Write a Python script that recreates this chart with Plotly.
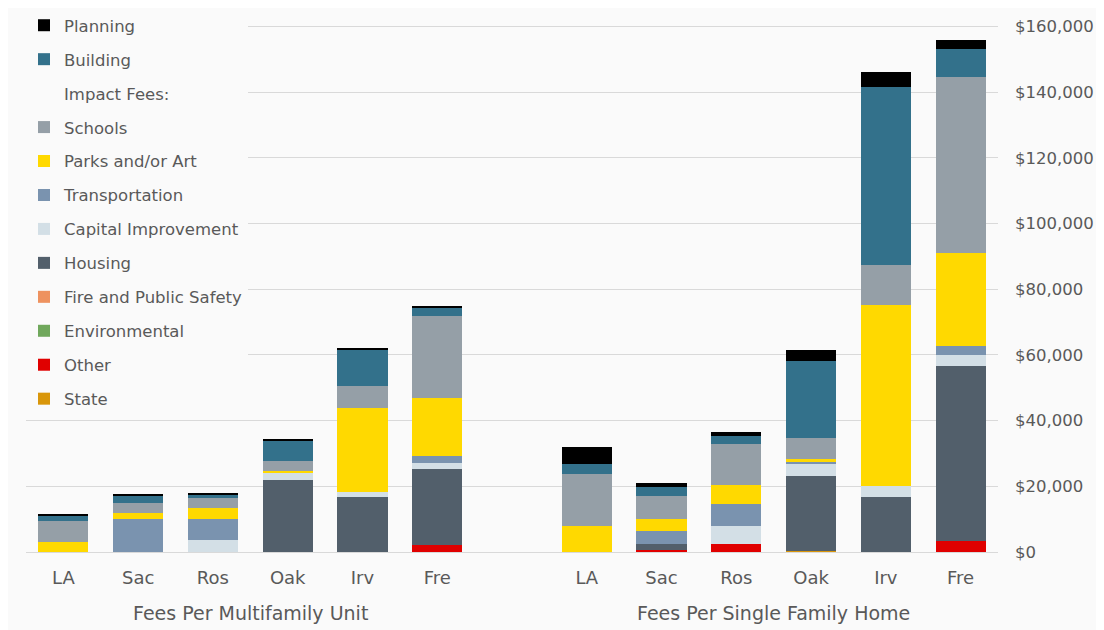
import plotly.graph_objects as go

# cities, same order in both groups
cities = ["LA", "Sac", "Ros", "Oak", "Irv", "Fre"]
group_labels = ["Fees Per Multifamily Unit", "Fees Per Single Family Home"]

# fees per multifamily unit ($)
mf_planning = [500, 300, 500, 500, 800, 700]
mf_building = [1800, 2100, 1300, 6100, 10900, 2300]
mf_schools = [6300, 3000, 3000, 3100, 6500, 25100]
mf_parks = [3000, 2000, 3300, 500, 25800, 17700]
mf_transport = [0, 10000, 6300, 0, 0, 2000]
mf_capital = [0, 0, 3700, 2200, 1600, 2000]
mf_housing = [0, 0, 0, 22000, 16600, 23000]
mf_fire = [0, 0, 0, 0, 0, 0]
mf_environmental = [0, 0, 0, 0, 0, 0]
mf_other = [0, 0, 0, 0, 0, 2200]
mf_state = [0, 0, 0, 0, 0, 0]

# fees per single family home ($)
sf_planning = [5300, 1300, 1300, 3300, 4600, 2800]
sf_building = [3000, 2800, 2300, 23500, 54400, 8600]
sf_schools = [16000, 6800, 12400, 6600, 12000, 53500]
sf_parks = [7800, 3700, 5800, 600, 55300, 28400]
sf_transport = [0, 4000, 6700, 500, 0, 2800]
sf_capital = [0, 0, 5500, 4000, 3400, 3200]
sf_housing = [0, 2000, 0, 22800, 16600, 53200]
sf_fire = [0, 0, 0, 0, 0, 0]
sf_environmental = [0, 0, 0, 0, 0, 0]
sf_other = [0, 500, 2500, 0, 0, 3500]
sf_state = [0, 0, 0, 300, 0, 0]

# bottom of the stack first
series = [
    ("State", mf_state, sf_state, "#D9960A"),
    ("Other", mf_other, sf_other, "#E00000"),
    ("Environmental", mf_environmental, sf_environmental, "#70A85C"),
    ("Fire and Public Safety", mf_fire, sf_fire, "#EE925F"),
    ("Housing", mf_housing, sf_housing, "#525F6B"),
    ("Capital Improvement", mf_capital, sf_capital, "#D3DFE6"),
    ("Transportation", mf_transport, sf_transport, "#7A93AF"),
    ("Parks and/or Art", mf_parks, sf_parks, "#FFD900"),
    ("Schools", mf_schools, sf_schools, "#959FA7"),
    ("Building", mf_building, sf_building, "#33718B"),
    ("Planning", mf_planning, sf_planning, "#000000"),
]
legend_order = ["Planning", "Building", "Impact Fees:", "Schools", "Parks and/or Art",
                "Transportation", "Capital Improvement", "Housing",
                "Fire and Public Safety", "Environmental", "Other", "State"]

FONT = "DejaVu Sans"
TXT = "#595959"
BG = "#FAFAFA"

# leave one empty slot between the two groups
x_pos = list(range(len(cities))) + [i + len(cities) + 1 for i in range(len(cities))]
tick_text = cities + cities

fig = go.Figure()
for name, mf, sf, color in series:
    fig.add_trace(go.Bar(x=x_pos, y=mf + sf, name=name, marker_color=color,
                         marker_line_width=0, width=0.67,
                         legendgroup=name, legendrank=legend_order.index(name),
                         hovertemplate=name + ": $%{y:,}<extra></extra>"))

# header line in the legend
fig.add_trace(go.Bar(x=[None], y=[None], name="Impact Fees:",
                     marker_color="rgba(0,0,0,0)", marker_line_width=0,
                     legendgroup="hdr", legendrank=legend_order.index("Impact Fees:")))

# page puts the figure 8px in from the top-left corner
fig.update_layout(
    barmode="stack",
    width=1096, height=622,
    margin=dict(l=18, r=106, t=17, b=78, autoexpand=False),
    paper_bgcolor=BG, plot_bgcolor=BG,
    font=dict(family=FONT, size=16, color=TXT),
    showlegend=True,
    legend=dict(x=16 / 1096, y=1.0 + 4 / 622, xref="container", yref="container",
                xanchor="left", yanchor="top", maxheight=600,
                traceorder="grouped", tracegroupgap=9.5,
                bgcolor=BG, font=dict(size=16.5, color=TXT)),
)
fig.update_xaxes(tickvals=x_pos, ticktext=tick_text, range=[-0.5, 12.5],
                 showgrid=False, showline=True, linecolor="#D9D9D9",
                 ticks="", ticklabelstandoff=9, tickfont=dict(size=18))
fig.update_yaxes(side="right", range=[0, 160500], dtick=20000,
                 tickprefix="$", tickformat=",", showgrid=True,
                 gridcolor="#D9D9D9", zeroline=False, ticklabelstandoff=16,
                 tickfont=dict(size=16.5))

for i, label in enumerate(group_labels):
    fig.add_annotation(x=2.5 + i * (len(cities) + 1), y=0, xref="x", yref="paper",
                       yshift=-74, text=label, showarrow=False,
                       font=dict(size=19, color=TXT))

fig.write_html("out.html")
